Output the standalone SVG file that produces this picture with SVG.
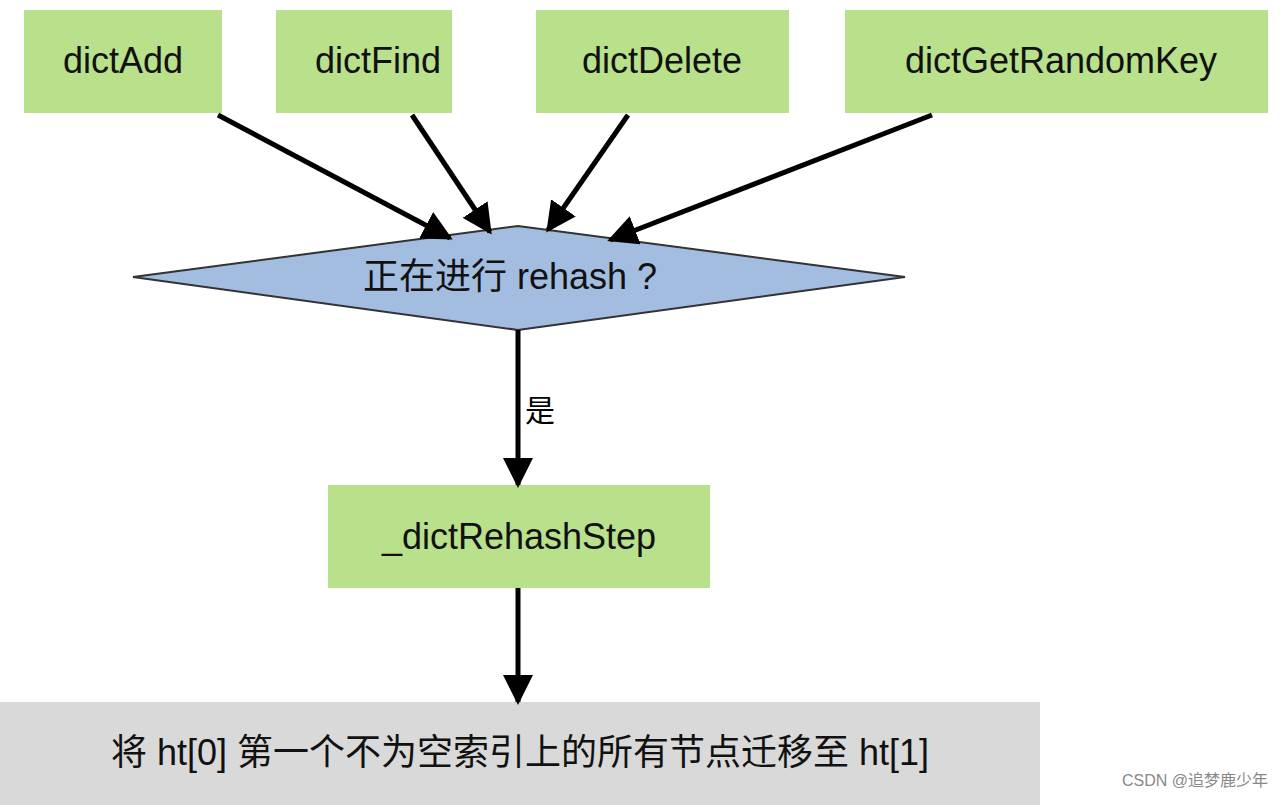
<svg xmlns="http://www.w3.org/2000/svg" width="1286" height="805" viewBox="0 0 1286 805">
<style>
.n{fill:#b9e08a}
.t{font-family:"Liberation Sans","Noto Sans CJK SC",sans-serif;font-size:36px;fill:#111;text-anchor:middle;dominant-baseline:central}
.e{stroke:#000;stroke-width:5;fill:none;marker-end:url(#a)}
</style>
<defs><marker id="a" viewBox="0 0 10 10" refX="9" refY="5" markerWidth="6" markerHeight="6" orient="auto" markerUnits="strokeWidth"><path d="M0,0 L10,5 L0,10 z" fill="#000"/></marker></defs>
<rect width="1286" height="805" fill="#fff"/>
<g id="dictAdd"><rect class="n" x="24" y="10" width="198" height="103"/><text class="t" x="123" y="60">dictAdd</text></g>
<g id="dictFind"><rect class="n" x="276" y="10" width="176" height="103"/><text class="t" x="378" y="60">dictFind</text></g>
<g id="dictDelete"><rect class="n" x="536" y="10" width="253" height="103"/><text class="t" x="662" y="60">dictDelete</text></g>
<g id="dictGetRandomKey"><rect class="n" x="845" y="10" width="423" height="103"/><text class="t" x="1061" y="60">dictGetRandomKey</text></g>
<g id="rehash"><polygon points="133,277 518,226 905,277 518,330" fill="#a3bde0" stroke="#333" stroke-width="2"/><text class="t" x="510" y="276">正在进行 rehash ?</text></g>
<g id="step"><rect class="n" x="328" y="485" width="382" height="103"/><text class="t" x="519" y="536">_dictRehashStep</text></g>
<g id="migrate"><rect x="0" y="702" width="1040" height="103" fill="#d9d9d9"/><text class="t" x="520" y="752">将 ht[0] 第一个不为空索引上的所有节点迁移至 ht[1]</text></g>
<g id="edges">
<line class="e" x1="218" y1="115" x2="450" y2="238"/>
<line class="e" x1="412" y1="115" x2="490" y2="232"/>
<line class="e" x1="628" y1="115" x2="548" y2="230"/>
<line class="e" x1="932" y1="115" x2="610" y2="240"/>
<line class="e" x1="518" y1="330" x2="518" y2="485"/>
<line class="e" x1="518" y1="588" x2="518" y2="702"/>
<text x="540" y="408" font-family="'Noto Sans CJK SC',sans-serif" font-size="30" text-anchor="middle" dominant-baseline="central">是</text>
</g>
<text x="1268" y="786" font-family="'Liberation Sans','Noto Sans CJK SC',sans-serif" font-size="16" fill="#888" text-anchor="end">CSDN @追梦鹿少年</text>
</svg>
